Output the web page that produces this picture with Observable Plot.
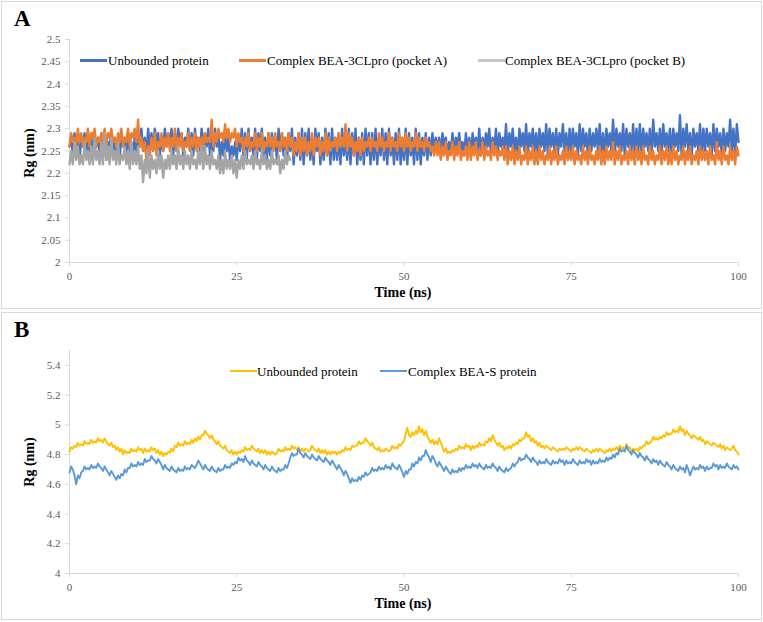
<!DOCTYPE html>
<html>
<head>
<meta charset="utf-8">
<script src="https://cdn.jsdelivr.net/npm/d3@7"></script>
<script src="https://cdn.jsdelivr.net/npm/@observablehq/plot@0.6"></script>
<style>
  html, body { margin: 0; padding: 0; background: #fff; }
  #root { position: relative; width: 763px; height: 622px; overflow: hidden; font-family: "Liberation Serif", "Times New Roman", serif; }
  #root svg { font-family: "Liberation Serif", "Times New Roman", serif; }
  .panel { position: absolute; border: 1px solid #d9d9d9; box-sizing: border-box; }
  .plotwrap { position: absolute; left: 0; }
  .tag { position: absolute; font-weight: bold; font-size: 23px; line-height: 1; }
  .leg { position: absolute; font-size: 13px; color: #000; white-space: nowrap; line-height: 1; }
  .sw { position: absolute; }
</style>
</head>
<body>
<div id="root"></div>
<script>
// ---- Panel A data (Rg, nm), t = 0 .. 100 ns, step 0.25 ns ----
const timeStepA = 0.25;
const unboundA = [
  2.26,2.28,2.24,2.29,2.25,2.27,2.23,2.28,2.26,2.29,2.24,2.27,2.25,2.29,2.23,2.28,2.26,2.28,2.24,2.29,
  2.25,2.28,2.23,2.27,2.26,2.29,2.24,2.28,2.25,2.27,2.23,2.29,2.26,2.28,2.24,2.29,2.25,2.27,2.24,2.28,
  2.24,2.29,2.26,2.30,2.25,2.28,2.24,2.30,2.26,2.29,2.25,2.30,2.27,2.29,2.24,2.28,2.25,2.30,2.26,2.29,
  2.26,2.30,2.24,2.29,2.25,2.30,2.27,2.29,2.24,2.28,2.26,2.30,2.25,2.29,2.24,2.30,2.26,2.28,2.25,2.30,
  2.25,2.29,2.26,2.30,2.24,2.28,2.25,2.30,2.26,2.29,2.23,2.27,2.24,2.29,2.25,2.28,2.23,2.26,2.24,2.27,
  2.23,2.28,2.25,2.30,2.24,2.29,2.23,2.30,2.25,2.28,2.24,2.30,2.23,2.29,2.25,2.30,2.24,2.28,2.23,2.29,
  2.24,2.29,2.26,2.28,2.23,2.30,2.25,2.29,2.24,2.28,2.23,2.29,2.25,2.30,2.22,2.28,2.24,2.29,2.23,2.30,
  2.22,2.29,2.24,2.30,2.23,2.28,2.22,2.30,2.25,2.29,2.22,2.28,2.23,2.30,2.24,2.29,2.22,2.30,2.23,2.28,
  2.23,2.29,2.22,2.30,2.24,2.28,2.23,2.30,2.22,2.29,2.24,2.30,2.22,2.28,2.23,2.29,2.22,2.30,2.24,2.29,
  2.22,2.29,2.23,2.30,2.22,2.28,2.24,2.30,2.23,2.29,2.22,2.30,2.24,2.28,2.22,2.29,2.23,2.30,2.22,2.28,
  2.23,2.30,2.22,2.29,2.24,2.28,2.22,2.30,2.23,2.29,2.22,2.28,2.24,2.29,2.23,2.28,2.24,2.29,2.25,2.28,
  2.25,2.28,2.24,2.29,2.26,2.28,2.24,2.27,2.25,2.29,2.24,2.28,2.26,2.29,2.25,2.27,2.24,2.29,2.25,2.28,
  2.24,2.29,2.26,2.28,2.25,2.30,2.24,2.28,2.25,2.29,2.26,2.30,2.24,2.28,2.25,2.30,2.24,2.29,2.26,2.28,
  2.25,2.31,2.24,2.29,2.26,2.30,2.25,2.28,2.24,2.30,2.26,2.29,2.25,2.31,2.24,2.29,2.26,2.30,2.25,2.29,
  2.24,2.30,2.26,2.29,2.25,2.31,2.24,2.30,2.26,2.29,2.25,2.30,2.24,2.29,2.26,2.31,2.25,2.29,2.24,2.30,
  2.25,2.30,2.26,2.29,2.24,2.31,2.25,2.30,2.26,2.29,2.24,2.30,2.25,2.29,2.26,2.30,2.25,2.31,2.24,2.29,
  2.24,2.30,2.26,2.29,2.25,2.32,2.24,2.30,2.26,2.29,2.25,2.31,2.24,2.30,2.26,2.29,2.25,2.31,2.24,2.30,
  2.25,2.31,2.24,2.30,2.26,2.29,2.25,2.30,2.24,2.32,2.26,2.29,2.25,2.30,2.24,2.31,2.26,2.29,2.25,2.30,
  2.24,2.30,2.26,2.29,2.25,2.33,2.24,2.30,2.26,2.31,2.25,2.29,2.24,2.30,2.26,2.29,2.25,2.31,2.24,2.30,
  2.25,2.30,2.26,2.29,2.24,2.31,2.25,2.30,2.26,2.29,2.24,2.30,2.25,2.29,2.26,2.32,2.25,2.30,2.24,2.31,
  2.27
];
const pocketA = [
  2.26,2.29,2.27,2.28,2.26,2.30,2.27,2.29,2.26,2.28,2.27,2.30,2.26,2.29,2.28,2.30,2.26,2.28,2.27,2.29,
  2.27,2.30,2.26,2.29,2.28,2.30,2.27,2.28,2.26,2.29,2.27,2.30,2.26,2.28,2.27,2.30,2.26,2.29,2.28,2.30,
  2.27,2.32,2.26,2.28,2.25,2.27,2.23,2.26,2.24,2.28,2.25,2.29,2.24,2.27,2.26,2.29,2.25,2.28,2.26,2.29,
  2.25,2.28,2.26,2.30,2.25,2.28,2.26,2.29,2.25,2.27,2.26,2.29,2.25,2.28,2.26,2.29,2.25,2.28,2.26,2.28,
  2.26,2.29,2.27,2.28,2.27,2.32,2.26,2.29,2.27,2.30,2.28,2.29,2.27,2.31,2.28,2.30,2.27,2.29,2.28,2.30,
  2.26,2.29,2.27,2.28,2.25,2.28,2.26,2.29,2.25,2.27,2.26,2.29,2.25,2.28,2.26,2.29,2.25,2.27,2.26,2.29,
  2.26,2.28,2.25,2.29,2.26,2.27,2.25,2.29,2.26,2.28,2.25,2.29,2.26,2.28,2.24,2.27,2.25,2.29,2.24,2.28,
  2.25,2.28,2.24,2.27,2.25,2.29,2.24,2.28,2.26,2.28,2.24,2.27,2.25,2.29,2.24,2.28,2.25,2.27,2.26,2.28,
  2.25,2.29,2.26,2.28,2.26,2.31,2.25,2.29,2.26,2.28,2.24,2.27,2.25,2.28,2.24,2.28,2.25,2.27,2.26,2.28,
  2.25,2.28,2.26,2.27,2.25,2.29,2.26,2.28,2.25,2.27,2.26,2.29,2.25,2.28,2.26,2.27,2.25,2.29,2.26,2.28,
  2.25,2.29,2.26,2.28,2.25,2.27,2.26,2.29,2.25,2.28,2.26,2.27,2.25,2.28,2.26,2.27,2.25,2.26,2.24,2.27,
  2.24,2.27,2.23,2.26,2.24,2.27,2.23,2.25,2.24,2.27,2.23,2.26,2.24,2.27,2.23,2.25,2.24,2.26,2.23,2.27,
  2.23,2.26,2.24,2.27,2.23,2.25,2.24,2.27,2.23,2.26,2.24,2.25,2.23,2.27,2.24,2.26,2.23,2.25,2.24,2.26,
  2.23,2.26,2.22,2.25,2.23,2.26,2.22,2.25,2.23,2.26,2.22,2.24,2.23,2.26,2.22,2.25,2.23,2.26,2.22,2.25,
  2.22,2.26,2.23,2.25,2.22,2.24,2.23,2.26,2.22,2.25,2.23,2.26,2.22,2.24,2.23,2.25,2.22,2.26,2.23,2.25,
  2.23,2.26,2.22,2.25,2.23,2.24,2.22,2.26,2.23,2.25,2.22,2.26,2.23,2.24,2.22,2.25,2.23,2.26,2.22,2.25,
  2.22,2.26,2.23,2.25,2.23,2.27,2.22,2.25,2.23,2.26,2.22,2.24,2.23,2.25,2.22,2.26,2.23,2.25,2.22,2.26,
  2.23,2.25,2.22,2.26,2.23,2.24,2.22,2.26,2.23,2.25,2.22,2.24,2.23,2.26,2.22,2.25,2.23,2.26,2.22,2.25,
  2.22,2.26,2.23,2.25,2.22,2.24,2.23,2.26,2.22,2.25,2.23,2.26,2.22,2.24,2.23,2.25,2.22,2.26,2.23,2.25,
  2.23,2.25,2.22,2.26,2.23,2.24,2.22,2.27,2.23,2.25,2.22,2.26,2.23,2.24,2.22,2.26,2.23,2.25,2.22,2.26,
  2.24
];
// pocket B: 0 .. 33 ns
const pocketB = [
  2.22,2.25,2.22,2.27,2.23,2.26,2.22,2.24,2.22,2.27,2.23,2.25,2.22,2.26,2.22,2.28,2.23,2.25,2.22,2.27,
  2.22,2.29,2.23,2.26,2.22,2.28,2.23,2.25,2.22,2.27,2.22,2.24,2.23,2.26,2.22,2.25,2.21,2.27,2.22,2.25,
  2.22,2.26,2.21,2.24,2.18,2.23,2.20,2.25,2.19,2.24,2.21,2.23,2.20,2.25,2.21,2.24,2.19,2.23,2.21,2.24,
  2.21,2.25,2.22,2.24,2.21,2.26,2.22,2.24,2.21,2.25,2.22,2.24,2.21,2.25,2.22,2.23,2.21,2.25,2.22,2.26,
  2.21,2.26,2.22,2.24,2.21,2.25,2.22,2.23,2.21,2.24,2.20,2.23,2.20,2.25,2.21,2.23,2.21,2.24,2.20,2.23,
  2.19,2.23,2.21,2.24,2.21,2.25,2.22,2.23,2.22,2.24,2.21,2.25,2.22,2.23,2.21,2.25,2.22,2.24,2.21,2.23,
  2.21,2.25,2.22,2.23,2.22,2.24,2.20,2.23,2.21,2.25,2.22,2.24,2.23
];
const seriesA = ["Unbounded protein", "Complex BEA-3CLpro (pocket A)", "Complex BEA-3CLpro (pocket B)"];
const colorsA = ["#4472C4", "#ED7D31", "#A5A5A5"];
const yTicksA = [2, 2.05, 2.1, 2.15, 2.2, 2.25, 2.3, 2.35, 2.4, 2.45, 2.5];

// ---- Panel B data (Rg, nm), t = 0 .. 100 ns, step 0.25 ns ----
const timeStepB = 0.25;
const unboundB = [
  4.82,4.85,4.84,4.86,4.85,4.88,4.86,4.87,4.86,4.89,4.87,4.88,4.87,4.90,4.88,4.89,4.88,4.91,4.89,4.90,
  4.88,4.91,4.89,4.87,4.86,4.88,4.85,4.86,4.83,4.85,4.82,4.84,4.80,4.83,4.81,4.82,4.81,4.84,4.82,4.83,
  4.82,4.85,4.83,4.84,4.81,4.84,4.82,4.83,4.82,4.85,4.83,4.84,4.81,4.83,4.80,4.82,4.79,4.81,4.80,4.82,
  4.81,4.84,4.82,4.86,4.85,4.88,4.86,4.87,4.86,4.89,4.87,4.88,4.87,4.90,4.88,4.91,4.89,4.92,4.90,4.93,
  4.93,4.96,4.94,4.93,4.91,4.93,4.90,4.89,4.87,4.89,4.86,4.85,4.84,4.86,4.83,4.82,4.81,4.83,4.80,4.82,
  4.80,4.82,4.81,4.83,4.82,4.85,4.83,4.84,4.83,4.86,4.84,4.83,4.82,4.84,4.81,4.83,4.81,4.83,4.80,4.82,
  4.80,4.82,4.81,4.80,4.81,4.84,4.82,4.83,4.82,4.85,4.83,4.84,4.83,4.86,4.84,4.85,4.83,4.85,4.82,4.84,
  4.82,4.84,4.83,4.82,4.83,4.86,4.84,4.83,4.82,4.84,4.81,4.83,4.81,4.83,4.80,4.82,4.80,4.82,4.81,4.82,
  4.80,4.82,4.81,4.83,4.82,4.85,4.83,4.84,4.83,4.86,4.85,4.86,4.86,4.89,4.87,4.88,4.88,4.91,4.89,4.88,
  4.86,4.88,4.85,4.84,4.83,4.85,4.82,4.83,4.82,4.84,4.83,4.82,4.83,4.86,4.84,4.85,4.84,4.87,4.86,4.88,
  4.89,4.94,4.98,4.93,4.92,4.95,4.93,4.96,4.94,4.99,4.95,4.97,4.93,4.96,4.92,4.90,4.88,4.90,4.87,4.89,
  4.87,4.91,4.88,4.85,4.82,4.84,4.81,4.82,4.81,4.83,4.82,4.84,4.83,4.86,4.84,4.85,4.84,4.87,4.85,4.86,
  4.83,4.86,4.84,4.86,4.85,4.88,4.86,4.87,4.86,4.89,4.88,4.91,4.89,4.93,4.90,4.88,4.86,4.88,4.85,4.86,
  4.83,4.85,4.84,4.86,4.84,4.87,4.86,4.88,4.87,4.90,4.89,4.91,4.91,4.95,4.92,4.93,4.89,4.91,4.88,4.89,
  4.86,4.88,4.85,4.86,4.84,4.86,4.85,4.84,4.83,4.85,4.84,4.83,4.82,4.84,4.83,4.84,4.83,4.85,4.84,4.83,
  4.82,4.84,4.83,4.85,4.83,4.85,4.84,4.83,4.82,4.84,4.83,4.82,4.81,4.83,4.82,4.84,4.82,4.84,4.83,4.82,
  4.81,4.83,4.82,4.84,4.82,4.84,4.83,4.85,4.83,4.86,4.84,4.85,4.83,4.87,4.84,4.85,4.82,4.84,4.83,4.84,
  4.82,4.85,4.84,4.86,4.86,4.89,4.87,4.88,4.89,4.92,4.90,4.91,4.90,4.92,4.91,4.93,4.92,4.95,4.93,4.94,
  4.94,4.97,4.95,4.96,4.95,4.99,4.96,4.97,4.93,4.96,4.94,4.93,4.91,4.93,4.92,4.91,4.90,4.92,4.89,4.90,
  4.87,4.89,4.88,4.87,4.86,4.88,4.87,4.86,4.85,4.87,4.84,4.86,4.83,4.85,4.84,4.83,4.84,4.86,4.83,4.82,
  4.80
];
const complexB = [
  4.68,4.72,4.70,4.66,4.60,4.66,4.64,4.68,4.69,4.72,4.70,4.71,4.70,4.73,4.71,4.72,4.71,4.74,4.72,4.71,
  4.69,4.72,4.70,4.68,4.66,4.69,4.67,4.65,4.63,4.66,4.64,4.67,4.66,4.70,4.68,4.71,4.71,4.74,4.72,4.73,
  4.72,4.75,4.73,4.74,4.73,4.77,4.75,4.76,4.76,4.79,4.77,4.76,4.74,4.77,4.75,4.73,4.70,4.73,4.71,4.70,
  4.69,4.72,4.70,4.69,4.68,4.71,4.69,4.70,4.69,4.72,4.70,4.71,4.70,4.73,4.72,4.71,4.73,4.76,4.74,4.72,
  4.70,4.73,4.71,4.70,4.69,4.72,4.70,4.69,4.68,4.71,4.69,4.70,4.70,4.73,4.71,4.72,4.71,4.74,4.73,4.75,
  4.74,4.78,4.76,4.77,4.75,4.79,4.76,4.75,4.73,4.76,4.74,4.73,4.72,4.75,4.73,4.72,4.70,4.73,4.71,4.70,
  4.69,4.72,4.70,4.69,4.68,4.71,4.69,4.70,4.70,4.73,4.71,4.74,4.78,4.81,4.79,4.80,4.80,4.84,4.81,4.80,
  4.78,4.81,4.79,4.78,4.77,4.80,4.78,4.77,4.76,4.79,4.77,4.76,4.75,4.78,4.76,4.75,4.73,4.76,4.74,4.72,
  4.70,4.73,4.71,4.69,4.66,4.69,4.67,4.64,4.61,4.64,4.62,4.63,4.62,4.65,4.63,4.66,4.65,4.68,4.66,4.67,
  4.68,4.71,4.69,4.70,4.69,4.72,4.70,4.71,4.70,4.73,4.71,4.72,4.70,4.74,4.72,4.71,4.70,4.73,4.71,4.68,
  4.65,4.69,4.67,4.70,4.70,4.74,4.72,4.75,4.74,4.78,4.76,4.79,4.79,4.83,4.80,4.78,4.75,4.79,4.77,4.74,
  4.72,4.75,4.73,4.71,4.69,4.72,4.70,4.68,4.67,4.70,4.68,4.69,4.68,4.71,4.69,4.71,4.70,4.73,4.71,4.72,
  4.71,4.74,4.72,4.73,4.71,4.74,4.72,4.71,4.70,4.73,4.71,4.72,4.71,4.74,4.72,4.71,4.69,4.72,4.70,4.69,
  4.68,4.71,4.69,4.70,4.71,4.74,4.72,4.74,4.75,4.78,4.76,4.77,4.77,4.80,4.78,4.77,4.75,4.78,4.76,4.75,
  4.73,4.76,4.74,4.75,4.74,4.77,4.75,4.74,4.73,4.76,4.74,4.75,4.74,4.77,4.75,4.76,4.73,4.76,4.74,4.75,
  4.74,4.77,4.75,4.74,4.73,4.76,4.74,4.75,4.74,4.77,4.75,4.76,4.73,4.76,4.74,4.75,4.74,4.77,4.75,4.76,
  4.75,4.78,4.76,4.78,4.77,4.80,4.78,4.81,4.80,4.84,4.82,4.83,4.82,4.86,4.83,4.82,4.80,4.83,4.81,4.80,
  4.78,4.81,4.79,4.78,4.76,4.79,4.77,4.76,4.74,4.77,4.75,4.76,4.73,4.76,4.74,4.73,4.72,4.75,4.73,4.72,
  4.70,4.73,4.71,4.70,4.69,4.72,4.70,4.71,4.68,4.73,4.70,4.66,4.69,4.72,4.70,4.71,4.70,4.73,4.71,4.72,
  4.69,4.72,4.70,4.71,4.71,4.74,4.72,4.73,4.70,4.73,4.71,4.72,4.71,4.74,4.72,4.71,4.70,4.73,4.71,4.72,
  4.70
];
const seriesB = ["Unbounded protein", "Complex BEA-S protein"];
const colorsB = ["#FFC000", "#5B9BD5"];
const yTicksB = [4, 4.2, 4.4, 4.6, 4.8, 5, 5.2, 5.4];
const xTicks = [0, 25, 50, 75, 100];

// ---- helpers ----
const toRows = (vals, step, name) => vals.map((v, i) => ({t: i * step, v, s: name}));
const root = document.getElementById("root");
function add(tag, cls, style, text) {
  const el = document.createElement(tag);
  if (cls) el.className = cls;
  Object.assign(el.style, style);
  if (text != null) el.textContent = text;
  root.appendChild(el);
  return el;
}

function makePlot({height, marginTop, marginBottom, domain, ticks, rows, names, colors, width}) {
  return Plot.plot({
    width: 763, height,
    marginLeft: 69, marginRight: 25, marginTop, marginBottom,
    style: {fontFamily: '"Liberation Serif", "Times New Roman", serif', background: "transparent", overflow: "visible"},
    x: {domain: [0, 100], ticks: xTicks, label: null},
    y: {domain, ticks, label: null},
    marks: [
      Plot.ruleX([0], {stroke: "#d9d9d9", strokeWidth: 1}),
      Plot.ruleY([domain[0]], {stroke: "#d9d9d9", strokeWidth: 1}),
      Plot.axisY({ticks, tickSize: 4, tickPadding: 5, stroke: "#d9d9d9", fill: "#595959", fontSize: 11, tickFormat: d => String(+d.toFixed(2)), label: null}),
      Plot.axisX({ticks: xTicks, tickSize: 4, tickPadding: 6, stroke: "#d9d9d9", fill: "#595959", fontSize: 11, label: null}),
      ...names.map((n, i) => Plot.line(rows.filter(r => r.s === n), {x: "t", y: "v", stroke: colors[i], strokeWidth: width, strokeLinejoin: "round"}))
    ]
  });
}

// ---- Panel A ----
add("div", "panel", {left: "1px", top: "1px", width: "761px", height: "308px"});
const rowsA = [
  ...toRows(unboundA, timeStepA, seriesA[0]),
  ...toRows(pocketA, timeStepA, seriesA[1]),
  ...toRows(pocketB, timeStepA, seriesA[2])
];
const plotA = makePlot({height: 310, marginTop: 39, marginBottom: 48, domain: [2, 2.5], ticks: yTicksA, rows: rowsA, names: seriesA, colors: colorsA, width: 2.4});
const wA = add("div", "plotwrap", {top: "0px"});
wA.appendChild(plotA);
add("div", "tag", {left: "14px", top: "7px"}, "A");
add("div", "leg", {left: "30px", top: "153px", transform: "translate(-50%,-50%) rotate(-90deg)", fontWeight: "bold", fontSize: "14px"}, "Rg (nm)");
add("div", "leg", {left: "403px", top: "293px", transform: "translate(-50%,-50%)", fontWeight: "bold", fontSize: "14px"}, "Time (ns)");
const legA = [[80, 108], [239, 267], [478, 505]];
seriesA.forEach((n, i) => {
  add("div", "sw", {left: legA[i][0] + "px", top: "59px", width: "27px", height: "3px", background: colorsA[i] === "#A5A5A5" ? "#c8c8c8" : colorsA[i]});
  add("div", "leg", {left: legA[i][1] + "px", top: "54px"}, n);
});

// ---- Panel B ----
add("div", "panel", {left: "1px", top: "312px", width: "761px", height: "308px"});
const rowsB = [
  ...toRows(unboundB, timeStepB, seriesB[0]),
  ...toRows(complexB, timeStepB, seriesB[1])
];
const plotB = makePlot({height: 312, marginTop: 40, marginBottom: 49, domain: [4, 5.5], ticks: yTicksB, rows: rowsB, names: seriesB, colors: colorsB, width: 1.9});
const wB = add("div", "plotwrap", {top: "310px"});
wB.appendChild(plotB);
add("div", "tag", {left: "14px", top: "318px"}, "B");
add("div", "leg", {left: "30px", top: "462px", transform: "translate(-50%,-50%) rotate(-90deg)", fontWeight: "bold", fontSize: "14px"}, "Rg (nm)");
add("div", "leg", {left: "403px", top: "604px", transform: "translate(-50%,-50%)", fontWeight: "bold", fontSize: "14px"}, "Time (ns)");
const legB = [[230, 257], [380, 408]];
seriesB.forEach((n, i) => {
  add("div", "sw", {left: legB[i][0] + "px", top: "370px", width: "27px", height: "2px", background: colorsB[i]});
  add("div", "leg", {left: legB[i][1] + "px", top: "365px"}, n);
});
</script>
</body>
</html>
